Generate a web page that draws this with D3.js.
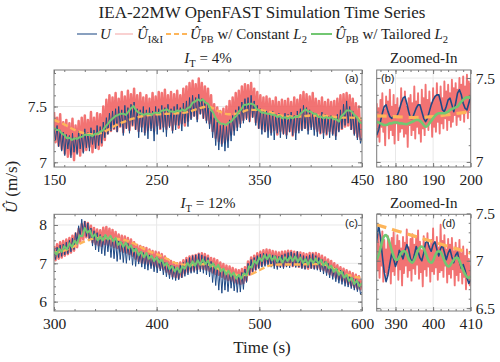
<!DOCTYPE html>
<html>
<head>
<meta charset="utf-8">
<script src="https://cdnjs.cloudflare.com/ajax/libs/d3/7.8.5/d3.min.js"></script>
<style>
body { margin: 0; background: #fff; }
svg { display: block; }
text { font-family: "Liberation Serif", "DejaVu Serif", serif; fill: #222; }
</style>
</head>
<body>
<div id="chart"></div>
<script>
// ---- panel (a): I_T = 4%, 150-450 s ----
var aFastStep = 1.5, aGreenStep = 2.5, aOrangeStep = 10, aStart = 150;
var aBlue = [7.30,7.20,7.33,7.14,7.29,7.10,7.27,7.06,7.25,7.12,
  7.24,7.04,7.26,7.09,7.22,7.07,7.28,7.12,7.25,7.08,
  7.30,7.13,7.27,7.10,7.31,7.16,7.29,7.12,7.33,7.15,
  7.32,7.17,7.36,7.22,7.40,7.25,7.44,7.28,7.46,7.30,
  7.48,7.27,7.50,7.32,7.47,7.24,7.51,7.30,7.49,7.26,
  7.52,7.33,7.54,7.29,7.48,7.22,7.47,7.27,7.50,7.24,
  7.47,7.21,7.49,7.28,7.46,7.19,7.50,7.25,7.48,7.30,
  7.51,7.27,7.49,7.23,7.52,7.31,7.48,7.26,7.50,7.29,
  7.52,7.33,7.49,7.28,7.53,7.35,7.55,7.32,7.58,7.38,
  7.60,7.41,7.58,7.36,7.61,7.43,7.57,7.39,7.55,7.35,
  7.52,7.30,7.46,7.22,7.40,7.15,7.36,7.11,7.33,7.14,
  7.35,7.10,7.32,7.13,7.38,7.19,7.42,7.24,7.47,7.28,
  7.50,7.31,7.54,7.35,7.57,7.38,7.58,7.36,7.60,7.40,
  7.55,7.33,7.51,7.30,7.48,7.25,7.47,7.27,7.46,7.22,
  7.45,7.24,7.46,7.20,7.43,7.26,7.44,7.22,7.42,7.25,
  7.44,7.21,7.43,7.27,7.45,7.24,7.42,7.20,7.46,7.26,
  7.48,7.28,7.51,7.30,7.49,7.25,7.47,7.29,7.45,7.24,
  7.44,7.23,7.42,7.26,7.45,7.21,7.43,7.25,7.41,7.22,
  7.42,7.24,7.40,7.20,7.43,7.27,7.47,7.30,7.52,7.33,
  7.55,7.35,7.50,7.29,7.46,7.24,7.41,7.20,7.38,7.17,
  7.22];
var aRed = [7.45,7.18,7.40,7.15,7.43,7.12,7.36,7.08,7.38,7.05,
  7.35,7.07,7.39,7.02,7.33,7.09,7.37,7.06,7.40,7.10,
  7.42,7.11,7.38,7.14,7.45,7.09,7.40,7.13,7.44,7.12,
  7.43,7.15,7.50,7.20,7.56,7.26,7.60,7.28,7.58,7.30,
  7.62,7.28,7.57,7.32,7.63,7.27,7.59,7.31,7.64,7.29,
  7.61,7.33,7.66,7.30,7.60,7.28,7.62,7.32,7.58,7.27,
  7.60,7.29,7.57,7.31,7.62,7.28,7.59,7.33,7.63,7.30,
  7.62,7.32,7.65,7.30,7.60,7.33,7.63,7.29,7.61,7.34,
  7.64,7.31,7.60,7.35,7.66,7.33,7.68,7.37,7.71,7.40,
  7.73,7.42,7.70,7.39,7.75,7.44,7.71,7.40,7.68,7.38,
  7.66,7.35,7.60,7.28,7.52,7.22,7.49,7.19,7.46,7.17,
  7.48,7.18,7.50,7.20,7.55,7.25,7.58,7.29,7.62,7.32,
  7.64,7.35,7.68,7.38,7.70,7.40,7.69,7.37,7.71,7.41,
  7.66,7.36,7.63,7.31,7.60,7.30,7.58,7.28,7.59,7.29,
  7.57,7.27,7.55,7.29,7.58,7.25,7.54,7.28,7.56,7.26,
  7.55,7.25,7.57,7.28,7.54,7.24,7.58,7.27,7.56,7.29,
  7.60,7.30,7.63,7.31,7.61,7.29,7.59,7.32,7.62,7.30,
  7.57,7.28,7.55,7.26,7.58,7.27,7.54,7.25,7.56,7.28,
  7.54,7.26,7.55,7.24,7.57,7.29,7.60,7.30,7.61,7.32,
  7.62,7.33,7.60,7.30,7.57,7.26,7.53,7.23,7.50,7.21,
  7.38];
var aGreen = [7.31,7.29,7.29,7.26,7.245,7.215,7.22,7.20,7.215,7.21,
  7.225,7.23,7.25,7.245,7.245,7.235,7.255,7.255,7.275,7.285,
  7.32,7.345,7.375,7.395,7.415,7.425,7.435,7.435,7.425,7.455,
  7.485,7.505,7.465,7.445,7.435,7.425,7.435,7.435,7.425,7.445,
  7.445,7.44,7.465,7.465,7.475,7.455,7.455,7.45,7.465,7.455,
  7.475,7.46,7.485,7.495,7.535,7.545,7.565,7.55,7.565,7.535,
  7.525,7.475,7.445,7.395,7.365,7.345,7.345,7.335,7.355,7.365,
  7.395,7.415,7.455,7.475,7.515,7.515,7.525,7.525,7.515,7.475,
  7.465,7.445,7.445,7.435,7.435,7.425,7.425,7.405,7.415,7.395,
  7.405,7.39,7.405,7.395,7.41,7.405,7.435,7.455,7.475,7.455,
  7.455,7.435,7.435,7.405,7.41,7.395,7.405,7.395,7.405,7.385,
  7.385,7.365,7.415,7.435,7.465,7.465,7.455,7.425,7.405,7.365,
  7.345];
var aOrange = [7.38,7.34,7.29,7.26,7.25,7.28,7.33,7.37,7.40,7.42,7.43,7.435,7.44,7.45,7.48,7.50,
  7.46,7.43,7.44,7.47,7.47,7.45,7.42,7.41,7.41,7.42,7.42,7.41,7.40,7.40,7.39];

// ---- panel (b): zoom 175-200 s ----
var bStart = 175, bRedStep = 0.25, bStep = 0.5, bOrangeStep = 5;
var bBlue = [7.16,7.19,7.24,7.29,7.33,7.34,7.30,7.27,7.26,7.27,
  7.27,7.28,7.31,7.35,7.38,7.39,7.35,7.30,7.26,7.26,
  7.29,7.32,7.34,7.34,7.30,7.26,7.24,7.26,7.30,7.34,
  7.37,7.39,7.40,7.40,7.36,7.31,7.30,7.33,7.37,7.38,
  7.34,7.30,7.35,7.41,7.43,7.40,7.35,7.32,7.31,7.35,
  7.39];
var bRed = [7.35,7.15,7.32,7.12,7.37,7.21,7.41,7.18,7.31,7.10,
  7.39,7.22,7.36,7.14,7.43,7.19,7.33,7.16,7.40,7.11,
  7.34,7.23,7.38,7.13,7.32,7.18,7.44,7.20,7.37,7.15,
  7.42,7.17,7.33,7.09,7.38,7.22,7.40,7.16,7.35,7.19,
  7.45,7.14,7.36,7.21,7.41,7.17,7.34,7.12,7.43,7.20,
  7.38,7.16,7.46,7.22,7.37,7.19,7.42,7.24,7.35,7.15,
  7.44,7.21,7.39,7.18,7.47,7.24,7.40,7.17,7.45,7.23,
  7.38,7.20,7.48,7.26,7.42,7.19,7.46,7.25,7.41,7.21,
  7.49,7.24,7.44,7.28,7.47,7.22,7.43,7.27,7.50,7.25,
  7.46,7.29,7.51,7.24,7.45,7.30,7.52,7.26,7.48,7.31,
  7.47];
var bGreen = [7.24,7.235,7.23,7.225,7.22,7.22,7.225,7.23,7.23,7.235,
  7.235,7.235,7.23,7.23,7.228,7.226,7.225,7.23,7.235,7.24,
  7.245,7.25,7.25,7.245,7.235,7.22,7.21,7.215,7.23,7.245,
  7.26,7.275,7.285,7.29,7.29,7.29,7.29,7.295,7.30,7.31,
  7.315,7.32,7.325,7.33,7.345,7.36,7.37,7.38,7.385,7.385,
  7.38];
var bOrange = [7.275,7.27,7.265,7.27,7.285,7.30];

// ---- panel (c): I_T = 12%, 300-600 s ----
var cFastStep = 1.5, cGreenStep = 2.5, cOrangeStep = 10, cStart = 300;
var cBlue = [7.38,7.10,7.42,7.15,7.48,7.18,7.50,7.22,7.55,7.25,
  7.60,7.30,7.66,7.36,7.80,7.55,7.98,7.70,8.15,7.78,
  8.10,7.70,8.05,7.58,7.92,7.45,7.85,7.35,7.80,7.30,
  7.75,7.25,7.70,7.20,7.72,7.30,7.68,7.15,7.65,7.12,
  7.62,7.05,7.58,7.10,7.55,7.02,7.50,7.00,7.52,7.08,
  7.45,6.95,7.40,6.92,7.35,6.98,7.30,6.90,7.28,6.85,
  7.25,6.82,7.22,6.86,7.18,6.78,7.15,6.75,7.12,6.80,
  7.08,6.70,7.02,6.65,6.98,6.60,6.95,6.58,6.92,6.55,
  6.90,6.57,6.95,6.62,7.02,6.66,7.10,6.70,7.15,6.74,
  7.20,6.76,7.22,6.72,7.25,6.78,7.22,6.74,7.18,6.70,
  7.15,6.65,7.05,6.50,6.98,6.42,6.92,6.30,6.88,6.22,
  6.85,6.30,6.80,6.26,6.78,6.35,6.74,6.28,6.70,6.24,
  6.72,6.25,6.76,6.32,6.85,6.50,7.00,6.70,7.10,6.78,
  7.15,6.82,7.20,6.86,7.24,6.90,7.26,6.92,7.25,6.95,
  7.24,6.90,7.22,6.86,7.20,6.84,7.18,6.88,7.22,6.86,
  7.25,6.90,7.28,6.88,7.30,6.92,7.26,6.89,7.31,6.90,
  7.24,6.86,7.20,6.84,7.18,6.88,7.22,6.86,7.25,6.84,
  7.20,6.82,7.15,6.78,7.10,6.72,7.05,6.68,7.00,6.62,
  6.95,6.58,6.90,6.52,6.85,6.48,6.82,6.45,6.78,6.40,
  6.72,6.38,6.68,6.34,6.62,6.30,6.58,6.26,6.52,6.20,
  6.25];
var cRed = [7.45,7.08,7.50,7.12,7.55,7.15,7.58,7.20,7.62,7.24,
  7.66,7.28,7.72,7.33,7.78,7.42,7.90,7.55,8.02,7.62,
  8.08,7.68,8.05,7.63,7.98,7.55,7.92,7.50,7.88,7.47,
  7.86,7.45,7.93,7.50,7.95,7.48,7.90,7.46,7.87,7.42,
  7.82,7.40,7.75,7.32,7.72,7.30,7.70,7.28,7.66,7.24,
  7.62,7.20,7.55,7.12,7.48,7.06,7.45,7.02,7.42,7.00,
  7.40,6.98,7.36,6.95,7.32,6.92,7.30,6.90,7.28,6.87,
  7.24,6.84,7.18,6.78,7.10,6.72,7.06,6.66,7.02,6.64,
  7.00,6.62,7.02,6.65,7.08,6.74,7.14,6.78,7.18,6.80,
  7.20,6.82,7.22,6.84,7.25,6.86,7.26,6.85,7.24,6.83,
  7.20,6.80,7.14,6.76,7.12,6.72,7.08,6.70,7.02,6.65,
  6.98,6.60,6.94,6.56,6.92,6.54,6.88,6.50,6.84,6.48,
  6.82,6.46,6.85,6.48,6.90,6.55,7.05,6.70,7.15,6.78,
  7.20,6.84,7.26,6.90,7.30,6.95,7.34,6.98,7.36,7.00,
  7.35,6.98,7.32,6.95,7.30,6.92,7.28,6.93,7.30,6.92,
  7.31,6.94,7.33,6.95,7.32,6.93,7.30,6.94,7.29,6.91,
  7.28,6.90,7.26,6.88,7.24,6.86,7.27,6.89,7.26,6.88,
  7.27,6.88,7.24,6.85,7.20,6.82,7.15,6.78,7.10,6.72,
  7.06,6.68,7.00,6.63,6.95,6.58,6.90,6.54,6.86,6.50,
  6.82,6.46,6.78,6.42,6.74,6.38,6.70,6.34,6.66,6.32,
  6.56];
var cGreen = [7.31,7.23,7.38,7.30,7.45,7.36,7.52,7.43,7.59,7.51,
  7.73,7.71,7.92,7.80,7.86,7.68,7.76,7.60,7.70,7.60,
  7.74,7.62,7.72,7.58,7.66,7.48,7.56,7.43,7.54,7.39,
  7.47,7.31,7.38,7.21,7.30,7.16,7.27,7.12,7.20,7.06,
  7.16,7.02,7.10,6.94,7.01,6.85,6.93,6.79,6.89,6.76,
  6.92,6.86,7.01,6.91,7.05,6.94,7.08,6.97,7.10,6.98,
  7.07,6.91,7.00,6.86,6.96,6.79,6.86,6.71,6.81,6.67,
  6.76,6.60,6.70,6.60,6.74,6.69,6.92,6.89,7.07,6.99,
  7.15,7.06,7.21,7.11,7.22,7.08,7.18,7.04,7.15,7.02,
  7.16,7.06,7.18,7.06,7.18,7.04,7.15,7.01,7.11,6.97,
  7.11,7.01,7.13,6.99,7.09,6.94,7.03,6.87,6.94,6.78,
  6.86,6.70,6.79,6.63,6.70,6.54,6.62,6.46,6.55,6.40,
  6.49];
var cOrange = [7.28,7.33,7.45,7.57,7.65,7.66,7.64,7.60,7.49,7.34,7.24,7.12,6.99,6.96,6.98,6.97,
  6.86,6.77,6.69,6.70,6.82,6.94,6.97,6.97,6.97,6.98,6.98,6.90,6.75,6.67,6.61];

// ---- panel (d): zoom 385-410 s ----
var dStart = 385, dRedStep = 0.25, dStep = 0.5, dOrangeStep = 5;
var dBlue = [7.20,7.38,7.25,7.05,6.88,6.78,6.85,6.97,7.08,7.02,
  6.94,7.00,7.11,7.07,7.02,7.10,7.17,7.12,7.02,6.98,
  7.06,7.15,7.10,7.03,7.00,7.08,7.19,7.21,7.14,7.10,
  7.17,7.20,7.12,7.05,7.13,7.16,7.09,7.01,7.08,7.12,
  7.04,6.98,7.06,7.09,6.99,6.92,6.96,6.90,6.82,6.76,
  6.80];
var dRed = [7.20,6.90,7.28,6.82,7.15,6.95,7.31,6.78,7.22,6.88,
  7.12,6.84,7.26,6.93,7.18,6.76,7.24,6.89,7.30,6.85,
  7.16,6.97,7.27,6.80,7.21,6.91,7.13,6.74,7.25,6.87,
  7.19,6.95,7.33,6.83,7.14,6.90,7.23,6.79,7.28,6.92,
  7.17,6.86,7.24,6.96,7.32,6.81,7.20,6.88,7.11,6.73,
  7.26,6.91,7.18,6.84,7.29,6.94,7.15,6.78,7.22,6.89,
  7.34,6.86,7.19,6.93,7.25,6.80,7.14,6.88,7.38,6.90,
  7.21,6.83,7.27,6.95,7.12,6.77,7.23,6.86,7.17,6.82,
  7.24,6.91,7.10,6.74,7.19,6.85,7.13,6.79,7.22,6.88,
  7.08,6.76,7.15,6.83,7.05,6.70,7.12,6.80,7.02,6.74,
  6.95];
var dGreen = [7.01,7.06,7.13,7.21,7.26,7.27,7.24,7.18,7.11,7.05,
  7.01,7.01,7.04,7.08,7.10,7.10,7.07,7.02,6.99,6.98,
  7.01,7.06,7.11,7.14,7.15,7.13,7.08,7.03,6.99,6.98,
  7.00,7.05,7.09,7.10,7.09,7.05,7.00,6.96,6.94,6.95,
  6.98,7.01,7.03,7.03,7.00,6.95,6.90,6.86,6.83,6.82,
  6.84];
var dOrange = [7.38,7.32,7.26,7.20,7.14,7.08];

var blueC = "#1f4a86", redC = "#f06060", orangeC = "#fdb55a", greenC = "#72c772", ink = "#222";
var serif = "'Liberation Serif', 'DejaVu Serif', serif";

var svg = d3.select("#chart").append("svg").attr("width", 500).attr("height", 362);

var panels = [
  {id: "a", left: 54, right: 362, top: 70, bottom: 167, xdom: [150, 450], ydom: [6.958, 7.827],
   xMajor: [150, 250, 350, 450], xMinor: d3.range(160, 450, 20), yMajor: [7, 7.5], yMinor: d3.range(7, 7.85, 0.1),
   ySide: "left", zoom: false, tag: "(a)", tagX: 345, tagY: 82,
   series: [[aRed, aStart, aFastStep, "red"], [aBlue, aStart, aFastStep, "blue"], [aOrange, aStart, aOrangeStep, "orange"], [aGreen, aStart, aGreenStep, "green"]]},
  {id: "b", left: 376.7, right: 470.7, top: 70, bottom: 167, xdom: [175, 200], ydom: [6.970, 7.548],
   xMajor: [180, 190, 200], xMinor: d3.range(176, 200, 2), yMajor: [7, 7.5], yMinor: d3.range(7, 7.55, 0.1),
   ySide: "right", zoom: true, tag: "(b)", tagX: 381, tagY: 82,
   series: [[bRed, bStart, bRedStep, "red"], [bBlue, bStart, bStep, "blue"], [bOrange, bStart, bOrangeStep, "orange"], [bGreen, bStart, bStep, "green"]]},
  {id: "c", left: 54, right: 362, top: 214.3, bottom: 311, xdom: [300, 600], ydom: [5.756, 8.279],
   xMajor: [300, 400, 500, 600], xMinor: d3.range(320, 600, 20), yMajor: [6, 7, 8], yMinor: d3.range(5.8, 8.3, 0.2),
   ySide: "left", zoom: false, tag: "(c)", tagX: 345, tagY: 227,
   series: [[cRed, cStart, cFastStep, "red"], [cBlue, cStart, cFastStep, "blue"], [cOrange, cStart, cOrangeStep, "orange"], [cGreen, cStart, cGreenStep, "green"]]},
  {id: "d", left: 376.7, right: 470.7, top: 214.3, bottom: 311, xdom: [385, 410], ydom: [6.47, 7.49],
   xMajor: [390, 400, 410], xMinor: d3.range(386, 410, 2), yMajor: [6.5, 7, 7.5], yMinor: d3.range(6.5, 7.5, 0.1),
   ySide: "right", zoom: true, tag: "(d)", tagX: 442, tagY: 227,
   series: [[dRed, dStart, dRedStep, "red"], [dBlue, dStart, dStep, "blue"], [dOrange, dStart, dOrangeStep, "orange"], [dGreen, dStart, dStep, "green"]]}
];

function styleLine(path, kind, zoom) {
  if (kind == "red") path.attr("stroke", redC).attr("stroke-width", zoom ? 1.9 : 2.5).attr("stroke-opacity", 0.88);
  if (kind == "blue") path.attr("stroke", blueC).attr("stroke-width", zoom ? 1.6 : 1.0);
  if (kind == "orange") path.attr("stroke", orangeC).attr("stroke-width", zoom ? 3.2 : 2.4)
    .attr("stroke-dasharray", zoom ? "10,6" : "6,3");
  if (kind == "green") path.attr("stroke", greenC).attr("stroke-width", zoom ? 2.6 : 2);
}

function cleanAxis(g, keepText) {
  g.select(".domain").remove();
  g.attr("font-family", null);
  g.selectAll(".tick line").attr("stroke", "#7a7a7a");
  if (!keepText) g.selectAll(".tick text").remove();
  g.selectAll(".tick text").style("font-size", "15.5px").style("font-family", serif).attr("fill", ink);
}

panels.forEach(function(p) {
  var x = d3.scaleLinear().domain(p.xdom).range([p.left, p.right]);
  var y = d3.scaleLinear().domain(p.ydom).range([p.bottom, p.top]);
  var g = svg.append("g");

  // grid
  g.selectAll(".gx").data(p.xMajor.filter(function(v){ return v > p.xdom[0] && v < p.xdom[1]; }))
    .enter().append("line")
    .attr("x1", function(d){ return x(d); }).attr("x2", function(d){ return x(d); })
    .attr("y1", p.top).attr("y2", p.bottom).attr("stroke", "#e8e8e8");
  g.selectAll(".gy").data(p.yMajor.filter(function(v){ return v > p.ydom[0] && v < p.ydom[1]; }))
    .enter().append("line")
    .attr("y1", function(d){ return y(d); }).attr("y2", function(d){ return y(d); })
    .attr("x1", p.left).attr("x2", p.right).attr("stroke", "#e8e8e8");

  svg.append("clipPath").attr("id", "clip-" + p.id).append("rect")
    .attr("x", p.left).attr("y", p.top).attr("width", p.right - p.left).attr("height", p.bottom - p.top);
  var plot = g.append("g").attr("clip-path", "url(#clip-" + p.id + ")");

  p.series.forEach(function(s) {
    var vals = s[0], t0 = s[1], dt = s[2], kind = s[3];
    var line = d3.line()
      .x(function(d, i){ return x(t0 + i * dt); })
      .y(function(d){ return y(d); });
    if (kind == "orange" || (kind == "green" && p.zoom)) line.curve(d3.curveMonotoneX);
    var path = plot.append("path").datum(vals).attr("d", line).attr("fill", "none")
      .attr("stroke-linejoin", "round");
    styleLine(path, kind, p.zoom);
  });

  // axes, ticks inward on all four sides
  var bx = g.append("g").attr("transform", "translate(0," + p.bottom + ")")
    .call(d3.axisBottom(x).tickValues(p.xMajor).tickSize(-4).tickPadding(7).tickFormat(d3.format("d")));
  cleanAxis(bx, true);
  cleanAxis(g.append("g").attr("transform", "translate(0," + p.bottom + ")")
    .call(d3.axisBottom(x).tickValues(p.xMinor).tickSize(-2)), false);
  cleanAxis(g.append("g").attr("transform", "translate(0," + p.top + ")")
    .call(d3.axisTop(x).tickValues(p.xMajor).tickSize(-4)), false);
  cleanAxis(g.append("g").attr("transform", "translate(0," + p.top + ")")
    .call(d3.axisTop(x).tickValues(p.xMinor).tickSize(-2)), false);

  var left = p.ySide == "left";
  var labX = left ? p.left : p.right;
  var oppX = left ? p.right : p.left;
  cleanAxis(g.append("g").attr("transform", "translate(" + labX + ",0)")
    .call((left ? d3.axisLeft(y) : d3.axisRight(y)).tickValues(p.yMajor).tickSize(-4)
      .tickPadding(left ? 7 : 5).tickFormat(function(d){ return String(d); })), true);
  cleanAxis(g.append("g").attr("transform", "translate(" + labX + ",0)")
    .call((left ? d3.axisLeft(y) : d3.axisRight(y)).tickValues(p.yMinor).tickSize(-2)), false);
  cleanAxis(g.append("g").attr("transform", "translate(" + oppX + ",0)")
    .call((left ? d3.axisRight(y) : d3.axisLeft(y)).tickValues(p.yMajor).tickSize(-4)), false);
  cleanAxis(g.append("g").attr("transform", "translate(" + oppX + ",0)")
    .call((left ? d3.axisRight(y) : d3.axisLeft(y)).tickValues(p.yMinor).tickSize(-2)), false);

  g.append("rect").attr("x", p.left).attr("y", p.top)
    .attr("width", p.right - p.left).attr("height", p.bottom - p.top)
    .attr("fill", "none").attr("stroke", "#7a7a7a").attr("stroke-width", 1);

  g.append("text").attr("x", p.tagX).attr("y", p.tagY).text(p.tag)
    .style("font-family", "'Liberation Sans', Arial, sans-serif").style("font-size", "11px");
});

// rich text helper: parts = [text, italic, sub]
function rich(parent, x, y, size, parts, anchor) {
  var t = parent.append("text").attr("x", x).attr("y", y).style("font-size", size + "px")
    .style("font-family", serif).attr("text-anchor", anchor || "start");
  var shifted = false, sh = size * 0.28;
  parts.forEach(function(pt) {
    var ts = t.append("tspan").text(pt[0]);
    if (pt[1]) ts.style("font-style", "italic");
    if (pt[2]) {
      ts.style("font-size", (size * 0.7) + "px");
      if (!shifted) { ts.attr("dy", sh); shifted = true; }
    } else if (shifted) { ts.attr("dy", -sh); shifted = false; }
  });
  return t;
}

// title
svg.append("text").attr("x", 262).attr("y", 18).attr("text-anchor", "middle").style("font-family", serif)
  .style("font-size", "17px").attr("fill", "#333").text("IEA-22MW OpenFAST Simulation Time Series");

// legend
var leg = svg.append("g");
var legY = 34;
leg.append("line").attr("x1", 77).attr("x2", 97).attr("y1", legY).attr("y2", legY).attr("stroke", blueC).attr("stroke-width", 1.5).attr("stroke-opacity", 0.7);
rich(leg, 100, legY + 5, 15, [["U", true]]);
leg.append("line").attr("x1", 115).attr("x2", 133).attr("y1", legY).attr("y2", legY).attr("stroke", "#f7c2c2").attr("stroke-width", 1.5);
rich(leg, 137, legY + 5, 15, [["Û", true], ["I&I", false, true]]);
leg.append("line").attr("x1", 166).attr("x2", 187).attr("y1", legY).attr("y2", legY).attr("stroke", orangeC).attr("stroke-width", 2).attr("stroke-dasharray", "5,3");
rich(leg, 190, legY + 5, 15, [["Û", true], ["PB", false, true], [" w/ Constant "], ["L", true], ["2", false, true]]);
leg.append("line").attr("x1", 311).attr("x2", 332).attr("y1", legY).attr("y2", legY).attr("stroke", greenC).attr("stroke-width", 2);
rich(leg, 335, legY + 5, 15, [["Û", true], ["PB", false, true], [" w/ Tailored "], ["L", true], ["2", false, true]]);

// panel titles
rich(svg, 208, 63, 15, [["I", true], ["T", false, true], [" = 4%"]], "middle");
svg.append("text").attr("x", 423.7).attr("y", 63).attr("text-anchor", "middle").style("font-family", serif).style("font-size", "15px").text("Zoomed-In");
rich(svg, 208, 208, 15, [["I", true], ["T", false, true], [" = 12%"]], "middle");
svg.append("text").attr("x", 423.7).attr("y", 208).attr("text-anchor", "middle").style("font-family", serif).style("font-size", "15px").text("Zoomed-In");

// axis titles
svg.append("text").attr("x", 262).attr("y", 353).attr("text-anchor", "middle").style("font-family", serif).style("font-size", "17px").text("Time (s)");
rich(svg.append("g").attr("transform", "translate(17,187) rotate(-90)"), 0, 0, 17, [["Û", true], [" (m/s)"]], "middle");
</script>
</body>
</html>
